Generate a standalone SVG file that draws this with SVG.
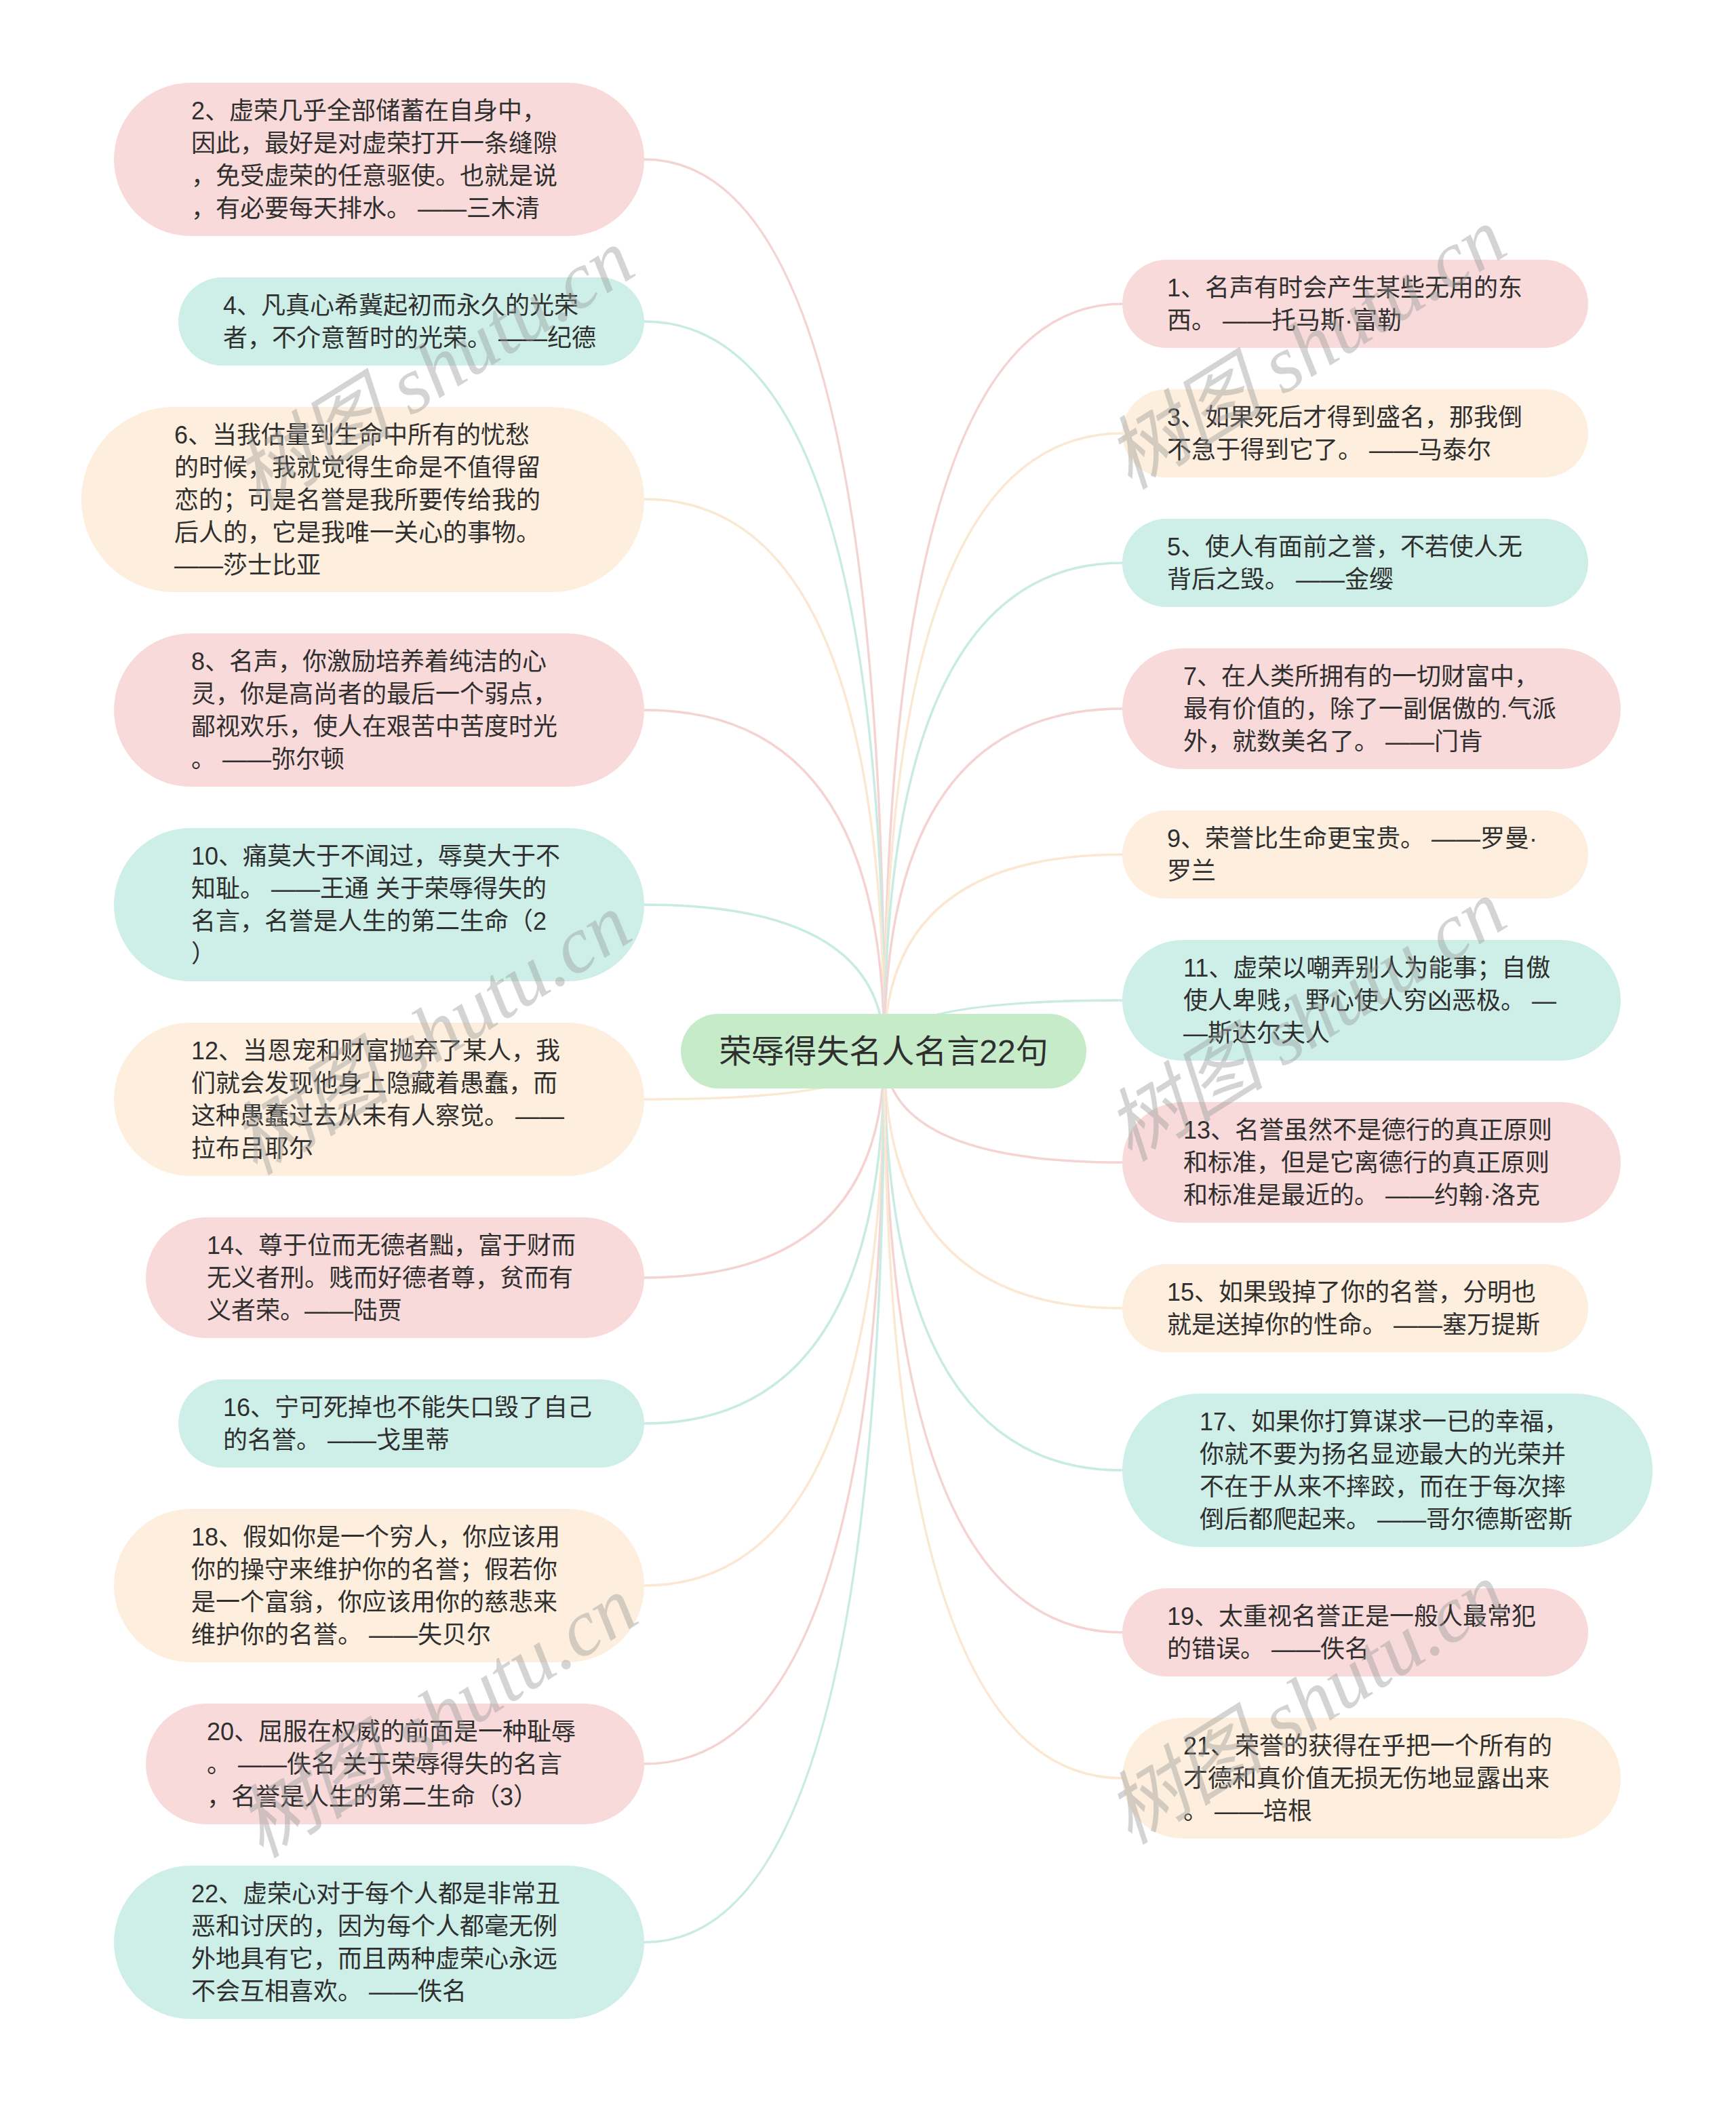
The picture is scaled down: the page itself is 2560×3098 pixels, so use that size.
<svg xmlns="http://www.w3.org/2000/svg" width="2560" height="3098" viewBox="0 0 2560 3098">
<style>
.pink{fill:#f9dada}
.teal{fill:#cdefe8}
.peach{fill:#fdeedd}
.root{fill:#c6ebc9}
.c{fill:none;stroke-width:3.5}
.cp{stroke:#f5d3d3}
.ct{stroke:#c8ebe3}
.ce{stroke:#fbe8d2}
.t{font-family:"Liberation Sans","Noto Sans CJK SC",sans-serif;font-size:36px;fill:#2f2f2f}
.rt{font-family:"Liberation Sans","Noto Sans CJK SC",sans-serif;font-size:48px;fill:#2f2f2f}
.wm{font-family:"Liberation Serif","Noto Sans CJK SC",serif;font-size:118px;font-style:italic;fill:#9a9a9a;opacity:0.42}
</style>
<rect width="2560" height="3098" fill="#ffffff"/>
<g id="connectors">
<path class="c cp" d="M1304 1550 Q1304 235 950 235"/>
<path class="c ct" d="M1304 1550 Q1304 474 950 474"/>
<path class="c ce" d="M1304 1550 Q1304 736 950 736"/>
<path class="c cp" d="M1304 1550 Q1304 1047 950 1047"/>
<path class="c ct" d="M1304 1550 Q1304 1334 950 1334"/>
<path class="c ce" d="M1304 1550 Q1304 1621 950 1621"/>
<path class="c cp" d="M1304 1550 Q1304 1884 950 1884"/>
<path class="c ct" d="M1304 1550 Q1304 2099 950 2099"/>
<path class="c ce" d="M1304 1550 Q1304 2338 950 2338"/>
<path class="c cp" d="M1304 1550 Q1304 2601 950 2601"/>
<path class="c ct" d="M1304 1550 Q1304 2864 950 2864"/>
<path class="c cp" d="M1304 1550 Q1304 448 1655 448"/>
<path class="c ce" d="M1304 1550 Q1304 639 1655 639"/>
<path class="c ct" d="M1304 1550 Q1304 830 1655 830"/>
<path class="c cp" d="M1304 1550 Q1304 1045 1655 1045"/>
<path class="c ce" d="M1304 1550 Q1304 1260 1655 1260"/>
<path class="c ct" d="M1304 1550 Q1304 1475 1655 1475"/>
<path class="c cp" d="M1304 1550 Q1304 1714 1655 1714"/>
<path class="c ce" d="M1304 1550 Q1304 1929 1655 1929"/>
<path class="c ct" d="M1304 1550 Q1304 2168 1655 2168"/>
<path class="c cp" d="M1304 1550 Q1304 2407 1655 2407"/>
<path class="c ce" d="M1304 1550 Q1304 2622 1655 2622"/>
</g>
<g id="n2"><rect class="pink" x="168" y="122" width="782" height="226" rx="113"/>
<text class="t"><tspan x="282" y="176">2、虚荣几乎全部储蓄在自身中，</tspan><tspan x="282" y="224">因此，最好是对虚荣打开一条缝隙</tspan><tspan x="282" y="272">，免受虚荣的任意驱使。也就是说</tspan><tspan x="282" y="320">，有必要每天排水。 ——三木清</tspan></text></g>
<g id="n4"><rect class="teal" x="263" y="409" width="687" height="130" rx="65"/>
<text class="t"><tspan x="329" y="463">4、凡真心希冀起初而永久的光荣</tspan><tspan x="329" y="511">者，不介意暂时的光荣。 ——纪德</tspan></text></g>
<g id="n6"><rect class="peach" x="120" y="600" width="830" height="273" rx="136.5"/>
<text class="t"><tspan x="257" y="654">6、当我估量到生命中所有的忧愁</tspan><tspan x="257" y="702">的时候，我就觉得生命是不值得留</tspan><tspan x="257" y="750">恋的；可是名誉是我所要传给我的</tspan><tspan x="257" y="798">后人的，它是我唯一关心的事物。</tspan><tspan x="257" y="846">——莎士比亚</tspan></text></g>
<g id="n8"><rect class="pink" x="168" y="934" width="782" height="226" rx="113"/>
<text class="t"><tspan x="282" y="988">8、名声，你激励培养着纯洁的心</tspan><tspan x="282" y="1036">灵，你是高尚者的最后一个弱点，</tspan><tspan x="282" y="1084">鄙视欢乐，使人在艰苦中苦度时光</tspan><tspan x="282" y="1132">。 ——弥尔顿</tspan></text></g>
<g id="n10"><rect class="teal" x="168" y="1221" width="782" height="226" rx="113"/>
<text class="t"><tspan x="282" y="1275">10、痛莫大于不闻过，辱莫大于不</tspan><tspan x="282" y="1323">知耻。 ——王通 关于荣辱得失的</tspan><tspan x="282" y="1371">名言，名誉是人生的第二生命（2</tspan><tspan x="282" y="1419">）</tspan></text></g>
<g id="n12"><rect class="peach" x="168" y="1508" width="782" height="226" rx="113"/>
<text class="t"><tspan x="282" y="1562">12、当恩宠和财富抛弃了某人，我</tspan><tspan x="282" y="1610">们就会发现他身上隐藏着愚蠢，而</tspan><tspan x="282" y="1658">这种愚蠢过去从未有人察觉。 ——</tspan><tspan x="282" y="1706">拉布吕耶尔</tspan></text></g>
<g id="n14"><rect class="pink" x="215" y="1795" width="735" height="178" rx="89"/>
<text class="t"><tspan x="305" y="1849">14、尊于位而无德者黜，富于财而</tspan><tspan x="305" y="1897">无义者刑。贱而好德者尊，贫而有</tspan><tspan x="305" y="1945">义者荣。——陆贾</tspan></text></g>
<g id="n16"><rect class="teal" x="263" y="2034" width="687" height="130" rx="65"/>
<text class="t"><tspan x="329" y="2088">16、宁可死掉也不能失口毁了自己</tspan><tspan x="329" y="2136">的名誉。 ——戈里蒂</tspan></text></g>
<g id="n18"><rect class="peach" x="168" y="2225" width="782" height="226" rx="113"/>
<text class="t"><tspan x="282" y="2279">18、假如你是一个穷人，你应该用</tspan><tspan x="282" y="2327">你的操守来维护你的名誉；假若你</tspan><tspan x="282" y="2375">是一个富翁，你应该用你的慈悲来</tspan><tspan x="282" y="2423">维护你的名誉。 ——失贝尔</tspan></text></g>
<g id="n20"><rect class="pink" x="215" y="2512" width="735" height="178" rx="89"/>
<text class="t"><tspan x="305" y="2566">20、屈服在权威的前面是一种耻辱</tspan><tspan x="305" y="2614">。 ——佚名 关于荣辱得失的名言</tspan><tspan x="305" y="2662">，名誉是人生的第二生命（3）</tspan></text></g>
<g id="n22"><rect class="teal" x="168" y="2751" width="782" height="226" rx="113"/>
<text class="t"><tspan x="282" y="2805">22、虚荣心对于每个人都是非常丑</tspan><tspan x="282" y="2853">恶和讨厌的，因为每个人都毫无例</tspan><tspan x="282" y="2901">外地具有它，而且两种虚荣心永远</tspan><tspan x="282" y="2949">不会互相喜欢。 ——佚名</tspan></text></g>
<g id="n1"><rect class="pink" x="1655" y="383" width="687" height="130" rx="65"/>
<text class="t"><tspan x="1721" y="437">1、名声有时会产生某些无用的东</tspan><tspan x="1721" y="485">西。 ——托马斯·富勒</tspan></text></g>
<g id="n3"><rect class="peach" x="1655" y="574" width="687" height="130" rx="65"/>
<text class="t"><tspan x="1721" y="628">3、如果死后才得到盛名，那我倒</tspan><tspan x="1721" y="676">不急于得到它了。 ——马泰尔</tspan></text></g>
<g id="n5"><rect class="teal" x="1655" y="765" width="687" height="130" rx="65"/>
<text class="t"><tspan x="1721" y="819">5、使人有面前之誉，不若使人无</tspan><tspan x="1721" y="867">背后之毁。 ——金缨</tspan></text></g>
<g id="n7"><rect class="pink" x="1655" y="956" width="735" height="178" rx="89"/>
<text class="t"><tspan x="1745" y="1010">7、在人类所拥有的一切财富中，</tspan><tspan x="1745" y="1058">最有价值的，除了一副倨傲的.气派</tspan><tspan x="1745" y="1106">外，就数美名了。 ——门肯</tspan></text></g>
<g id="n9"><rect class="peach" x="1655" y="1195" width="687" height="130" rx="65"/>
<text class="t"><tspan x="1721" y="1249">9、荣誉比生命更宝贵。 ——罗曼·</tspan><tspan x="1721" y="1297">罗兰</tspan></text></g>
<g id="n11"><rect class="teal" x="1655" y="1386" width="735" height="178" rx="89"/>
<text class="t"><tspan x="1745" y="1440">11、虚荣以嘲弄别人为能事；自傲</tspan><tspan x="1745" y="1488">使人卑贱，野心使人穷凶恶极。 —</tspan><tspan x="1745" y="1536">—斯达尔夫人</tspan></text></g>
<g id="n13"><rect class="pink" x="1655" y="1625" width="735" height="178" rx="89"/>
<text class="t"><tspan x="1745" y="1679">13、名誉虽然不是德行的真正原则</tspan><tspan x="1745" y="1727">和标准，但是它离德行的真正原则</tspan><tspan x="1745" y="1775">和标准是最近的。 ——约翰·洛克</tspan></text></g>
<g id="n15"><rect class="peach" x="1655" y="1864" width="687" height="130" rx="65"/>
<text class="t"><tspan x="1721" y="1918">15、如果毁掉了你的名誉，分明也</tspan><tspan x="1721" y="1966">就是送掉你的性命。 ——塞万提斯</tspan></text></g>
<g id="n17"><rect class="teal" x="1655" y="2055" width="782" height="226" rx="113"/>
<text class="t"><tspan x="1769" y="2109">17、如果你打算谋求一已的幸福，</tspan><tspan x="1769" y="2157">你就不要为扬名显迹最大的光荣并</tspan><tspan x="1769" y="2205">不在于从来不摔跤，而在于每次摔</tspan><tspan x="1769" y="2253">倒后都爬起来。 ——哥尔德斯密斯</tspan></text></g>
<g id="n19"><rect class="pink" x="1655" y="2342" width="687" height="130" rx="65"/>
<text class="t"><tspan x="1721" y="2396">19、太重视名誉正是一般人最常犯</tspan><tspan x="1721" y="2444">的错误。 ——佚名</tspan></text></g>
<g id="n21"><rect class="peach" x="1655" y="2533" width="735" height="178" rx="89"/>
<text class="t"><tspan x="1745" y="2587">21、荣誉的获得在乎把一个所有的</tspan><tspan x="1745" y="2635">才德和真价值无损无伤地显露出来</tspan><tspan x="1745" y="2683">。 ——培根</tspan></text></g>
<g id="root"><rect class="root" x="1004" y="1495" width="598" height="110" rx="55"/>
<text class="rt" x="1303" y="1567" text-anchor="middle">荣辱得失名人名言22句</text></g>
<g id="watermark">
<text class="wm" text-anchor="middle" transform="translate(640 545) rotate(-32)" y="40">树图 shutu.cn</text>
<text class="wm" text-anchor="middle" transform="translate(1926 514) rotate(-32)" y="40">树图 shutu.cn</text>
<text class="wm" text-anchor="middle" transform="translate(636 1525) rotate(-32)" y="40">树图 shutu.cn</text>
<text class="wm" text-anchor="middle" transform="translate(1926 1505) rotate(-32)" y="40">树图 shutu.cn</text>
<text class="wm" text-anchor="middle" transform="translate(645 2532) rotate(-32)" y="40">树图 shutu.cn</text>
<text class="wm" text-anchor="middle" transform="translate(1926 2512) rotate(-32)" y="40">树图 shutu.cn</text>
</g>
</svg>
